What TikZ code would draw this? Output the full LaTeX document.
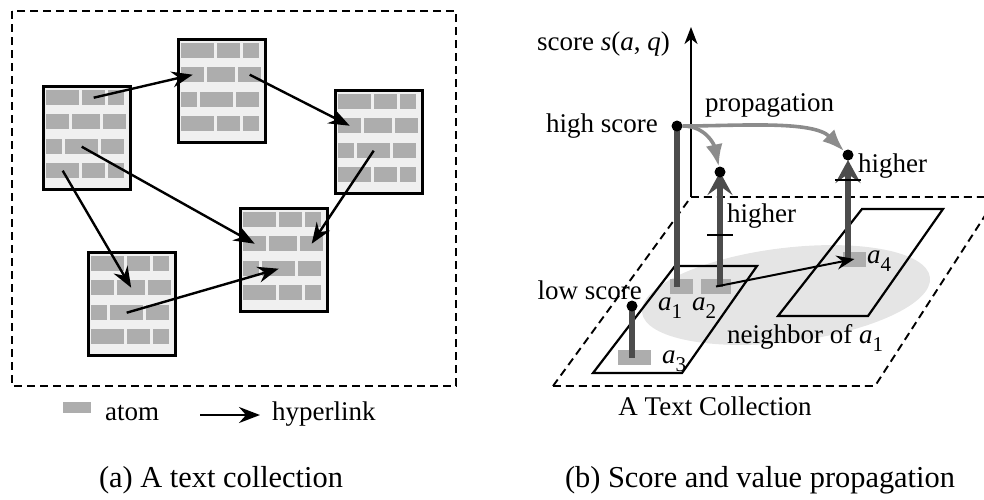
\documentclass[tikz,border=0pt]{standalone}
\usepackage{fontspec}
\setmainfont{Liberation Serif}
\usetikzlibrary{arrows.meta}

\newcommand{\alab}[1]{\textit{a}\raisebox{-0.3em}{\fontsize{21}{21}\selectfont #1}}
\newcommand{\textpage}[3]{%
  \node[page] (#1) at (#2,#3) {};
  \foreach \r/\c/\bx/\by/\bw in {1/1/4/5/33,1/2/40/5/23,1/3/66/5/16,
      2/1/4/29/23,2/2/30/29/28,2/3/61/29/23,
      3/1/4/54/16,3/2/23/54/33,3/3/59/54/23,
      4/1/4/78/33,4/2/40/78/23,4/3/66/78/16}
    \node[brick,minimum width=\bw pt] (#1-\r-\c) at ({#2+\bx},{#3+\by}) {};
}

\begin{document}
\begin{tikzpicture}[x=1pt,y=-1pt,
  lbl/.style={inner sep=0pt,font=\fontsize{27}{30}\selectfont},
  captxt/.style={inner sep=0pt,font=\fontsize{30.4}{34}\selectfont},
  page/.style={draw=black,fill=cpage,line width=2.6pt,minimum width=87pt,minimum height=103pt,inner sep=0pt,anchor=north west},
  brick/.style={fill=cbrick,minimum height=15pt,inner sep=0pt,anchor=north west},
  atom/.style={fill=cbrick,minimum width=23pt,minimum height=15pt,inner sep=0pt},
  dot/.style={circle,fill=black,minimum size=11pt,inner sep=0pt},
  link/.style={line width=2.4pt,-{Stealth[length=21pt,width=16pt,inset=7pt]}},
  bar/.style={draw=cbar,line width=5.5pt},
  uparrow/.style={bar,-{Stealth[length=23pt,width=25pt,inset=9pt]}},
  prop/.style={draw=cprop,line width=3.6pt,-{Latex[length=22pt,width=17pt]}},
  frame/.style={line width=1.9pt,dash pattern=on 8pt off 5pt},
  plane/.style={line width=2.2pt},
  tick/.style={line width=2.2pt}]
\definecolor{cpage}{rgb}{0.94,0.94,0.94}
\definecolor{cbrick}{rgb}{0.68,0.68,0.68}
\definecolor{cbar}{rgb}{0.3,0.3,0.3}
\definecolor{cprop}{rgb}{0.55,0.55,0.55}
\definecolor{cnbr}{rgb}{0.9,0.9,0.9}
\useasboundingbox (0,0) rectangle (984,499);
%
% (a) text collection
\draw[frame] (12,11) rectangle (456,386);
\textpage{p1}{42}{85}
\textpage{p2}{177}{38}
\textpage{p3}{334}{89}
\textpage{p4}{87}{251}
\textpage{p5}{239}{207}
%
\draw[link] (p1-1-2.center) -- (p2-2-1.center);
\draw[link] (p2-2-3.center) -- (p3-2-1.center);
\draw[link] (p3-3-2.center) -- (p5-2-3.center);
\draw[link] (p1-3-2.center) -- (p5-2-1.center);
\draw[link] (p1-4-1.center) -- (p4-2-2.center);
\draw[link] (p4-3-2.center) -- (p5-3-2.center);
%
\node[atom,minimum width=28pt,minimum height=11pt] (legatom) at (77,407.5) {};
\node[lbl,anchor=base west] (legatomlbl) at (105,420) {atom};
\coordinate (legfrom) at (200,415);
\coordinate (legto) at (260,415);
\draw[link] (legfrom) -- (legto);
\node[lbl,anchor=base west] (leglinklbl) at (272,420) {hyperlink};
\node[captxt,anchor=base] (capa) at (221,487) {(a) A text collection};
%
% (b) score and value propagation
\fill[cnbr,rotate around={7:(786,295)}] (786,295) ellipse [x radius=145pt,y radius=47pt];
\coordinate (axbot) at (691,197);
\coordinate (axtop) at (691,27);
\begin{scope}
\clip (0,0) rectangle (984,499);
\draw[frame] (553,386) -- (axbot) -- (997,197) -- (875,386) -- cycle;
\end{scope}
\draw[plane] (593,373) -- (675,266) -- (757,266) -- (682,373) -- cycle;
\draw[plane] (778,316) -- (862,209) -- (943,209) -- (868,316) -- cycle;
\draw[line width=1.9pt,-{Stealth[length=17pt,width=13pt,inset=5pt]}] (axbot) -- (axtop);
\node[lbl,anchor=base east] (scorelbl) at (670,50) {score \textit{s}(\textit{a}, \textit{q})};
%
\node[atom] (a1) at (681.5,286.5) {};
\node[atom,minimum width=30pt] (a2) at (716,286.5) {};
\node[atom,minimum width=33pt] (a3) at (634.5,357.5) {};
\node[atom] (a4) at (854.5,259) {};
\node[lbl,anchor=base west] (a1lbl) at (658,310) {\alab{1}};
\node[lbl,anchor=base west] (a2lbl) at (692,310) {\alab{2}};
\node[lbl,anchor=base west] (a3lbl) at (662,363) {\alab{3}};
\node[lbl,anchor=base west] (a4lbl) at (867,263) {\alab{4}};
%
\coordinate (hi) at (677,126);
\coordinate (mid) at (720,172);
\coordinate (hi4) at (848,155);
\coordinate (lo) at (632,306);
\draw[bar] (hi) -- (hi |- a1);
\draw[bar] (lo) -- (lo |- a3);
\draw[uparrow] (mid |- a2) -- (mid);
\draw[uparrow,shorten >=5pt] (hi4 |- a4) -- (hi4);
\coordinate (old2) at (720,235);
\coordinate (old4) at (848,180);
\draw[tick] ([xshift=-13pt]old2) -- ([xshift=13pt]old2);
\draw[tick] ([xshift=-13pt]old4) -- ([xshift=13pt]old4);
\draw[link,line width=2pt,-{Stealth[length=18pt,width=14pt,inset=6pt]}] (a2.center) -- (a4.center);
%
\node[dot] (hidot) at (hi) {};
\node[dot] (middot) at (mid) {};
\node[dot] (hi4dot) at (hi4) {};
\node[dot] (lodot) at (lo) {};
\draw[prop] (hidot) .. controls +(28,0) and +(-6,-28) .. (middot);
\draw[prop] (hidot) .. controls +(60,0) and +(-35,-35) .. (hi4dot);
%
\node[lbl,anchor=base east] (hilbl) at (658,132) {high score};
\node[lbl,anchor=base west] (proplbl) at (705,111) {propagation};
\node[lbl,anchor=base west] (higher2) at (727,222) {higher};
\node[lbl,anchor=base west] (higher4) at (858,172) {higher};
\node[lbl,anchor=base east] (lolbl) at (642,299) {low score};
\node[lbl,anchor=base west] (nbrlbl) at (727,343) {neighbor of \alab{1}};
\node[lbl,anchor=base] (colllbl) at (715,415) {A Text Collection};
\node[captxt,anchor=base] (capb) at (760,487) {(b) Score and value propagation};
%
\end{tikzpicture}
\end{document}
